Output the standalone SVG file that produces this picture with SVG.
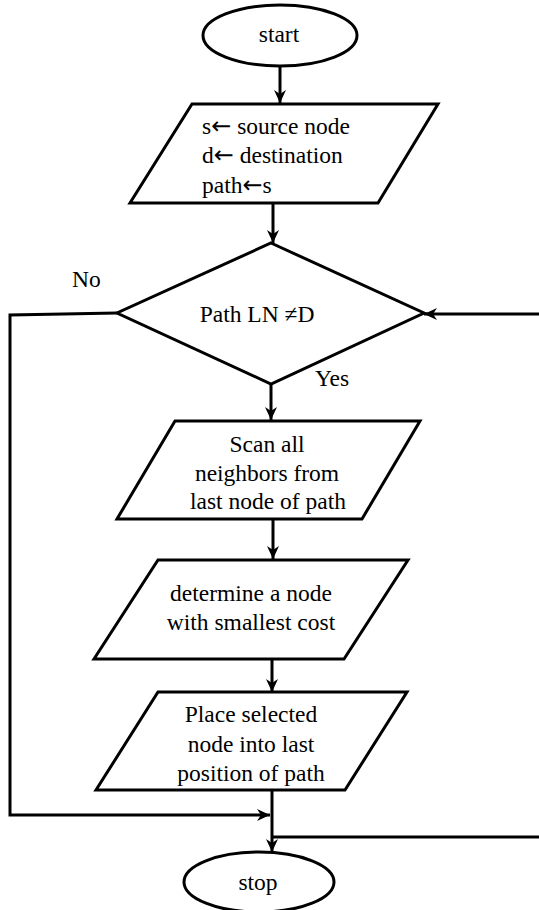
<svg xmlns="http://www.w3.org/2000/svg" width="539" height="910" viewBox="0 0 539 910">
  <style>
    .shape { fill: #ffffff; stroke: #000000; stroke-width: 3; stroke-linejoin: miter; }
    .wire { fill: none; stroke: #000000; stroke-width: 3; }
    .label { font-family: "Liberation Serif", "Times New Roman", serif; font-size: 23.5px; fill: #000000; }
    .sym { font-family: "DejaVu Sans", sans-serif; font-size: 24px; }
    .mid { text-anchor: middle; }
  </style>
  <defs>
    <marker id="arrow" markerUnits="userSpaceOnUse" markerWidth="14" markerHeight="12" refX="13" refY="6" orient="auto">
      <path d="M0,0 L13,6 L0,12 L4,6 Z" fill="#000000"/>
    </marker>
  </defs>

  <rect width="539" height="910" fill="#ffffff"/>

  <!-- connectors -->
  <g id="connectors">
    <path class="wire" d="M280,66 V103" marker-end="url(#arrow)"/>
    <path class="wire" d="M273,203 V243" marker-end="url(#arrow)"/>
    <path class="wire" d="M271,384 V420" marker-end="url(#arrow)"/>
    <path class="wire" d="M273,519 V559" marker-end="url(#arrow)"/>
    <path class="wire" d="M272,659 V692" marker-end="url(#arrow)"/>
    <path class="wire" d="M272,790 V852" marker-end="url(#arrow)"/>
    <!-- "No" branch down the left side to the merge point -->
    <path class="wire" d="M117,313 L10,315 V815 H270" marker-end="url(#arrow)"/>
    <!-- loop back up the right side into the decision -->
    <path class="wire" d="M272,837 H545 V314 H424" marker-end="url(#arrow)"/>
  </g>

  <g id="start">
    <ellipse class="shape" cx="280" cy="35.5" rx="77" ry="30.5"/>
    <text class="label mid" x="279" y="42">start</text>
  </g>

  <g id="init">
    <polygon class="shape" points="192,104 438,104 378,203 130,203"/>
    <text class="label" x="202" y="134">s<tspan class="sym">←</tspan> source node</text>
    <text class="label" x="202" y="163">d<tspan class="sym">←</tspan> destination</text>
    <text class="label" x="202" y="193">path<tspan class="sym">←</tspan>s</text>
  </g>

  <g id="check">
    <polygon class="shape" points="271,243 424,313 271,384 117,313"/>
    <text class="label mid" x="257" y="322">Path LN ≠D</text>
    <text class="label" x="72" y="287">No</text>
    <text class="label" x="315" y="386">Yes</text>
  </g>

  <g id="scan">
    <polygon class="shape" points="175,421 420,421 362,519 117,519"/>
    <text class="label mid" x="267" y="452">Scan all</text>
    <text class="label mid" x="267" y="481">neighbors from</text>
    <text class="label mid" x="268" y="509">last node of path</text>
  </g>

  <g id="select">
    <polygon class="shape" points="158,560 408,560 344,659 94,659"/>
    <text class="label mid" x="251" y="601">determine a node</text>
    <text class="label mid" x="251" y="630">with smallest cost</text>
  </g>

  <g id="place">
    <polygon class="shape" points="158,692 407,692 345,790 96,790"/>
    <text class="label mid" x="251" y="722">Place selected</text>
    <text class="label mid" x="251" y="752">node into last</text>
    <text class="label mid" x="251" y="781">position of path</text>
  </g>

  <g id="stop">
    <ellipse class="shape" cx="259" cy="882" rx="75" ry="30"/>
    <text class="label mid" x="258" y="890">stop</text>
  </g>
</svg>
